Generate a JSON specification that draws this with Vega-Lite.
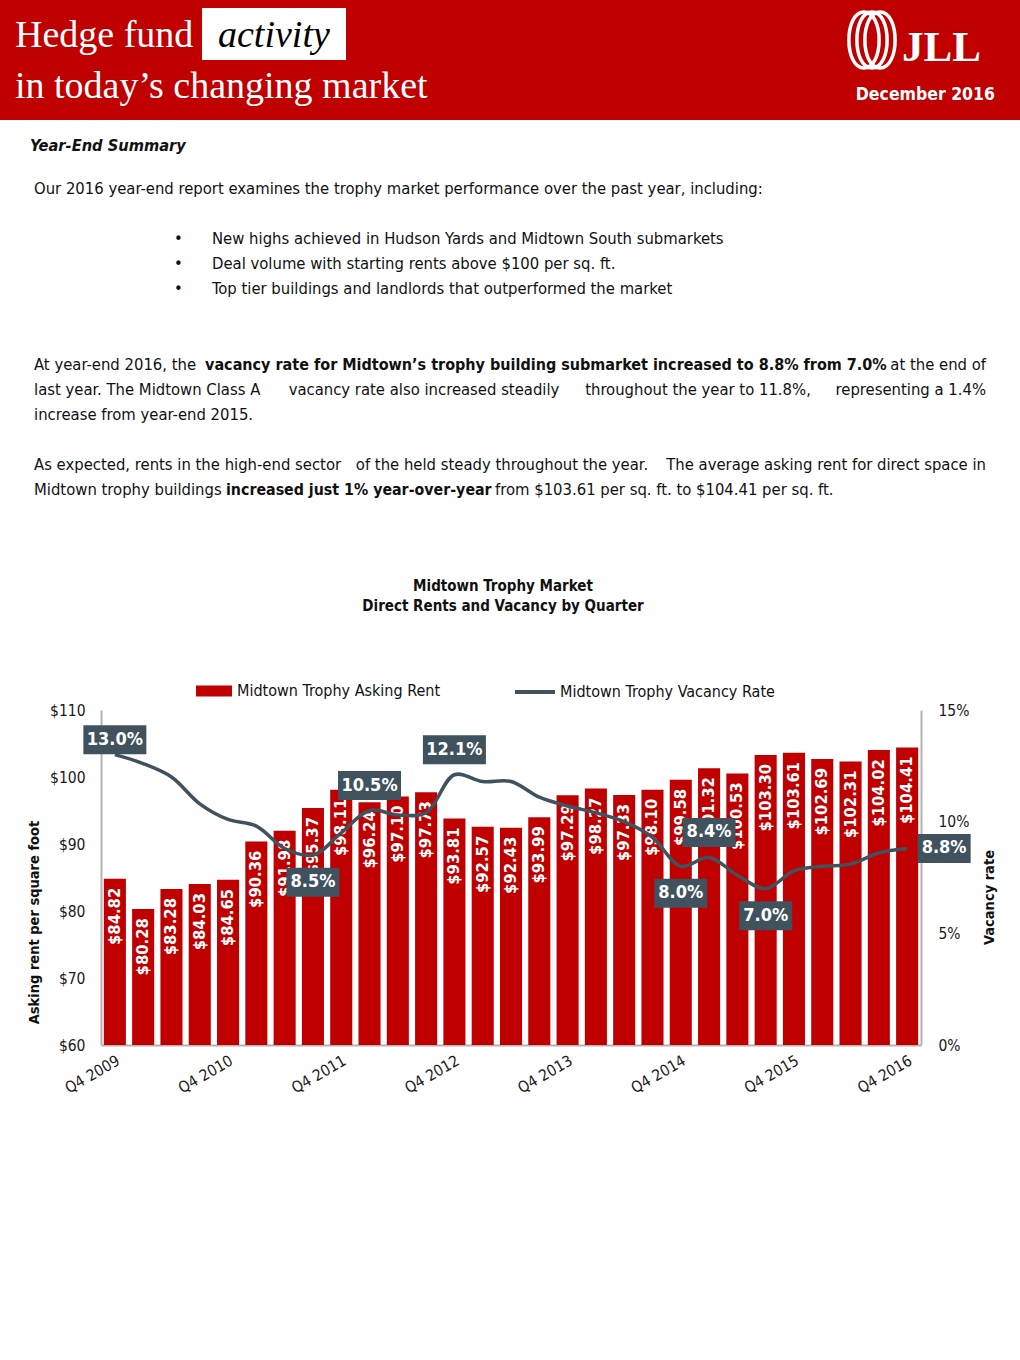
{
  "$schema": "https://vega.github.io/schema/vega-lite/v6.json",
  "width": 820,
  "height": 335,
  "autosize": {"type": "none"},
  "padding": {"left": 101, "top": 710, "right": 99, "bottom": 315},
  "background": "white",
  "data": {
    "values": [
      {"q": "Q4 2009", "rent": 84.82, "vac": 0.130},
      {"q": "Q1 2010", "rent": 80.28, "vac": 0.126},
      {"q": "Q2 2010", "rent": 83.28, "vac": 0.120},
      {"q": "Q3 2010", "rent": 84.03, "vac": 0.108},
      {"q": "Q4 2010", "rent": 84.65, "vac": 0.101},
      {"q": "Q1 2011", "rent": 90.36, "vac": 0.098},
      {"q": "Q2 2011", "rent": 91.98, "vac": 0.088},
      {"q": "Q3 2011", "rent": 95.37, "vac": 0.085},
      {"q": "Q4 2011", "rent": 98.11, "vac": 0.095},
      {"q": "Q1 2012", "rent": 96.24, "vac": 0.105},
      {"q": "Q2 2012", "rent": 97.10, "vac": 0.103},
      {"q": "Q3 2012", "rent": 97.73, "vac": 0.104},
      {"q": "Q4 2012", "rent": 93.81, "vac": 0.121},
      {"q": "Q1 2013", "rent": 92.57, "vac": 0.118},
      {"q": "Q2 2013", "rent": 92.43, "vac": 0.118},
      {"q": "Q3 2013", "rent": 93.99, "vac": 0.111},
      {"q": "Q4 2013", "rent": 97.29, "vac": 0.107},
      {"q": "Q1 2014", "rent": 98.27, "vac": 0.104},
      {"q": "Q2 2014", "rent": 97.33, "vac": 0.100},
      {"q": "Q3 2014", "rent": 98.10, "vac": 0.093},
      {"q": "Q4 2014", "rent": 99.58, "vac": 0.080},
      {"q": "Q1 2015", "rent": 101.32, "vac": 0.084},
      {"q": "Q2 2015", "rent": 100.53, "vac": 0.076},
      {"q": "Q3 2015", "rent": 103.30, "vac": 0.070},
      {"q": "Q4 2015", "rent": 103.61, "vac": 0.078},
      {"q": "Q1 2016", "rent": 102.69, "vac": 0.080},
      {"q": "Q2 2016", "rent": 102.31, "vac": 0.081},
      {"q": "Q3 2016", "rent": 104.02, "vac": 0.086},
      {"q": "Q4 2016", "rent": 104.41, "vac": 0.088}
    ]
  },
  "layer": [
    {"data": {"values": [{}]}, "mark": {"type": "rect", "x": -101, "x2": 919, "y": -710, "y2": -590, "fill": "#c00000"}, "encoding": {}},
    {"data": {"values": [{}]}, "mark": {"type": "rect", "x": 101, "x2": 245, "y": -702, "y2": -650, "fill": "#ffffff"}, "encoding": {}},
    {"data": {"values": [{}]}, "mark": {"type": "text", "text": "Hedge fund", "x": -86, "y": -663, "align": "left", "baseline": "alphabetic", "font": "Liberation Serif", "fontSize": 38, "fill": "#ffffff"}, "encoding": {}},
    {"data": {"values": [{}]}, "mark": {"type": "text", "text": "activity", "x": 117, "y": -663, "align": "left", "baseline": "alphabetic", "font": "Liberation Serif", "fontStyle": "italic", "fontSize": 38, "fill": "#000000"}, "encoding": {}},
    {"data": {"values": [{}]}, "mark": {"type": "text", "text": "in today’s changing market", "x": -86, "y": -612, "align": "left", "baseline": "alphabetic", "font": "Liberation Serif", "fontSize": 38, "fill": "#ffffff"}, "encoding": {}},
    {"data": {"values": [{}]}, "mark": {"type": "point", "shape": "M0,-1C0.72,-1,0.72,1,0,1C-0.72,1,-0.72,-1,0,-1Z", "size": 3136, "x": 763, "y": -670, "filled": false, "stroke": "#ffffff", "strokeWidth": 3.5, "opacity": 1}, "encoding": {}},
    {"data": {"values": [{}]}, "mark": {"type": "point", "shape": "M0,-1C0.72,-1,0.72,1,0,1C-0.72,1,-0.72,-1,0,-1Z", "size": 3136, "x": 771, "y": -670, "filled": false, "stroke": "#ffffff", "strokeWidth": 3.5, "opacity": 1}, "encoding": {}},
    {"data": {"values": [{}]}, "mark": {"type": "point", "shape": "M0,-1C0.72,-1,0.72,1,0,1C-0.72,1,-0.72,-1,0,-1Z", "size": 3136, "x": 779, "y": -670, "filled": false, "stroke": "#ffffff", "strokeWidth": 3.5, "opacity": 1}, "encoding": {}},
    {"data": {"values": [{}]}, "mark": {"type": "text", "text": "JLL", "x": 801, "y": -649, "align": "left", "baseline": "alphabetic", "font": "Liberation Serif", "fontWeight": "bold", "fontSize": 43, "fill": "#ffffff"}, "encoding": {}},
    {"data": {"values": [{}]}, "mark": {"type": "text", "text": "December 2016", "x": 894, "y": -610, "align": "right", "baseline": "alphabetic", "fontWeight": "bold", "fontSize": 17.5, "fill": "#ffffff"}, "encoding": {}},
    {"data": {"values": [{}]}, "mark": {"type": "text", "text": "Year-End Summary", "x": -71, "y": -559.5, "align": "left", "baseline": "alphabetic", "fontWeight": "bold", "fontStyle": "italic", "fontSize": 16.3, "fill": "#111111"}, "encoding": {}},
    {"data": {"values": [{}]}, "mark": {"type": "text", "text": "Our 2016 year-end report examines the trophy market performance over the past year, including:", "x": -67, "y": -516.5, "align": "left", "baseline": "alphabetic", "fontSize": 16.5, "fill": "#111111"}, "encoding": {}},
    {"data": {"values": [{}]}, "mark": {"type": "text", "text": ["•", "•", "•"], "lineHeight": 25, "x": 73, "y": -466.5, "align": "left", "baseline": "alphabetic", "fontSize": 16.5, "fill": "#111111"}, "encoding": {}},
    {"data": {"values": [{}]}, "mark": {"type": "text", "text": ["New highs achieved in Hudson Yards and Midtown South submarkets", "Deal volume with starting rents above $100 per sq. ft.", "Top tier buildings and landlords that outperformed the market"], "lineHeight": 25, "x": 111, "y": -466.5, "align": "left", "baseline": "alphabetic", "fontSize": 16.5, "fill": "#111111"}, "encoding": {}},
    {"data": {"values": [{}]}, "mark": {"type": "text", "text": "At year-end 2016, the", "x": -67, "y": -340.5, "align": "left", "baseline": "alphabetic", "fontSize": 16.5, "fill": "#111111"}, "encoding": {}},
    {"data": {"values": [{}]}, "mark": {"type": "text", "text": "vacancy rate for Midtown’s trophy building submarket increased to 8.8% from 7.0%", "x": 104, "y": -340.5, "align": "left", "baseline": "alphabetic", "fontWeight": "bold", "fontSize": 16, "fill": "#111111"}, "encoding": {}},
    {"data": {"values": [{}]}, "mark": {"type": "text", "text": "at the end of", "x": 885, "y": -340.5, "align": "right", "baseline": "alphabetic", "fontSize": 16.5, "fill": "#111111"}, "encoding": {}},
    {"data": {"values": [{}]}, "mark": {"type": "text", "text": "last year. The Midtown Class A", "x": -67, "y": -315.5, "align": "left", "baseline": "alphabetic", "fontSize": 16.5, "fill": "#111111"}, "encoding": {}},
    {"data": {"values": [{}]}, "mark": {"type": "text", "text": "vacancy rate also increased steadily", "x": 323, "y": -315.5, "align": "center", "baseline": "alphabetic", "fontSize": 16.5, "fill": "#111111"}, "encoding": {}},
    {"data": {"values": [{}]}, "mark": {"type": "text", "text": "throughout the year to 11.8%,", "x": 597, "y": -315.5, "align": "center", "baseline": "alphabetic", "fontSize": 16.5, "fill": "#111111"}, "encoding": {}},
    {"data": {"values": [{}]}, "mark": {"type": "text", "text": "representing a 1.4%", "x": 885, "y": -315.5, "align": "right", "baseline": "alphabetic", "fontSize": 16.5, "fill": "#111111"}, "encoding": {}},
    {"data": {"values": [{}]}, "mark": {"type": "text", "text": "increase from year-end 2015.", "x": -67, "y": -290.5, "align": "left", "baseline": "alphabetic", "fontSize": 16.5, "fill": "#111111"}, "encoding": {}},
    {"data": {"values": [{}]}, "mark": {"type": "text", "text": "As expected, rents in the high-end sector", "x": -67, "y": -240.5, "align": "left", "baseline": "alphabetic", "fontSize": 16.5, "fill": "#111111"}, "encoding": {}},
    {"data": {"values": [{}]}, "mark": {"type": "text", "text": "of the held steady throughout the year.", "x": 401, "y": -240.5, "align": "center", "baseline": "alphabetic", "fontSize": 16.5, "fill": "#111111"}, "encoding": {}},
    {"data": {"values": [{}]}, "mark": {"type": "text", "text": "The average asking rent for direct space in", "x": 885, "y": -240.5, "align": "right", "baseline": "alphabetic", "fontSize": 16.5, "fill": "#111111"}, "encoding": {}},
    {"data": {"values": [{}]}, "mark": {"type": "text", "text": "Midtown trophy buildings", "x": -67, "y": -215.5, "align": "left", "baseline": "alphabetic", "fontSize": 16.5, "fill": "#111111"}, "encoding": {}},
    {"data": {"values": [{}]}, "mark": {"type": "text", "text": "increased just 1% year-over-year", "x": 125, "y": -215.5, "align": "left", "baseline": "alphabetic", "fontWeight": "bold", "fontSize": 15.8, "fill": "#111111"}, "encoding": {}},
    {"data": {"values": [{}]}, "mark": {"type": "text", "text": "from $103.61 per sq. ft. to $104.41 per sq. ft.", "x": 394, "y": -215.5, "align": "left", "baseline": "alphabetic", "fontSize": 16.5, "fill": "#111111"}, "encoding": {}},
    {"data": {"values": [{}]}, "mark": {"type": "text", "text": ["Midtown Trophy Market", "Direct Rents and Vacancy by Quarter"], "lineHeight": 20, "x": 402, "y": -119.5, "align": "center", "baseline": "alphabetic", "fontWeight": "bold", "fontSize": 15, "fill": "#111111"}, "encoding": {}},
    {
      "encoding": {
        "x": {"field": "q", "type": "ordinal", "sort": null, "title": null, "scale": {"paddingInner": 0.22, "paddingOuter": 0.1}, "axis": {"values": ["Q4 2009", "Q4 2010", "Q4 2011", "Q4 2012", "Q4 2013", "Q4 2014", "Q4 2015", "Q4 2016"], "labelAngle": -30, "labelPadding": 8}},
        "y": {"field": "rent", "type": "quantitative", "scale": {"domain": [60, 110], "zero": false, "nice": false}, "axis": {"orient": "left", "values": [60, 70, 80, 90, 100, 110], "format": "$d", "title": "Asking rent per square foot", "labelPadding": 16, "titlePadding": 8, "titleY": 212}}
      },
      "layer": [
        {"mark": {"type": "bar"}, "encoding": {"y2": {"datum": 60}, "fill": {"datum": "Midtown Trophy Asking Rent", "type": "nominal", "scale": {"range": ["#c00000"]}, "legend": {"orient": "none", "legendX": 94, "legendY": -38, "title": null, "symbolType": "M-1,-0.3H1V0.3H-1Z", "symbolSize": 1296, "labelFontSize": 16, "labelColor": "#111111", "labelOffset": 4, "labelLimit": 400, "padding": 0}}}},
        {"mark": {"type": "text", "angle": 270, "align": "right", "baseline": "middle", "dx": -9, "fill": "#ffffff", "fontWeight": "bold", "fontSize": 16.5}, "encoding": {"text": {"field": "rent", "type": "quantitative", "format": "$.2f"}}}
      ]
    },
    {
      "encoding": {
        "x": {"field": "q", "type": "ordinal", "sort": null, "title": null, "scale": {"paddingInner": 0.22, "paddingOuter": 0.1}, "axis": {"values": ["Q4 2009", "Q4 2010", "Q4 2011", "Q4 2012", "Q4 2013", "Q4 2014", "Q4 2015", "Q4 2016"], "labelAngle": -30, "labelPadding": 8}},
        "y": {"field": "vac", "type": "quantitative", "scale": {"domain": [0, 0.15], "nice": false}, "axis": {"orient": "right", "values": [0, 0.05, 0.1, 0.15], "format": ".0%", "title": "Vacancy rate", "titleAngle": 270, "labelPadding": 17, "titlePadding": 28, "titleY": 187}}
      },
      "layer": [
        {"mark": {"type": "line", "interpolate": "catmull-rom", "strokeWidth": 3.5}, "encoding": {"stroke": {"datum": "Midtown Trophy Vacancy Rate", "type": "nominal", "scale": {"range": ["#3f525e"]}, "legend": {"orient": "none", "legendX": 412, "legendY": -40, "title": null, "symbolType": "stroke", "symbolSize": 1600, "symbolStrokeWidth": 4, "labelFontSize": 16, "labelColor": "#111111", "labelOffset": 3, "labelLimit": 400, "padding": 0}}}},
        {"transform": [{"filter": {"field": "q", "oneOf": ["Q4 2009"]}}], "mark": {"type": "point", "shape": "M-1,-0.46H1V0.46H-1Z", "size": 3969, "filled": true, "fill": "#3f525e", "strokeWidth": 0, "opacity": 1, "yOffset": -15}},
        {"transform": [{"filter": {"field": "q", "oneOf": ["Q4 2009"]}}], "mark": {"type": "text", "dy": -15, "baseline": "middle", "align": "center", "fill": "#ffffff", "fontWeight": "bold", "fontSize": 18}, "encoding": {"text": {"field": "vac", "type": "quantitative", "format": ".1%"}}},
        {"transform": [{"filter": {"field": "q", "oneOf": ["Q1 2012", "Q4 2012"]}}], "mark": {"type": "point", "shape": "M-1,-0.46H1V0.46H-1Z", "size": 3969, "filled": true, "fill": "#3f525e", "strokeWidth": 0, "opacity": 1, "yOffset": -25}},
        {"transform": [{"filter": {"field": "q", "oneOf": ["Q1 2012", "Q4 2012"]}}], "mark": {"type": "text", "dy": -25, "baseline": "middle", "align": "center", "fill": "#ffffff", "fontWeight": "bold", "fontSize": 18}, "encoding": {"text": {"field": "vac", "type": "quantitative", "format": ".1%"}}},
        {"transform": [{"filter": {"field": "q", "oneOf": ["Q1 2015"]}}], "mark": {"type": "point", "shape": "M-1,-0.547H1V0.547H-1Z", "size": 2809, "filled": true, "fill": "#3f525e", "strokeWidth": 0, "opacity": 1, "yOffset": -25}},
        {"transform": [{"filter": {"field": "q", "oneOf": ["Q1 2015"]}}], "mark": {"type": "text", "dy": -25, "baseline": "middle", "align": "center", "fill": "#ffffff", "fontWeight": "bold", "fontSize": 18}, "encoding": {"text": {"field": "vac", "type": "quantitative", "format": ".1%"}}},
        {"transform": [{"filter": {"field": "q", "oneOf": ["Q3 2011", "Q4 2014", "Q3 2015"]}}], "mark": {"type": "point", "shape": "M-1,-0.547H1V0.547H-1Z", "size": 2809, "filled": true, "fill": "#3f525e", "strokeWidth": 0, "opacity": 1, "yOffset": 27}},
        {"transform": [{"filter": {"field": "q", "oneOf": ["Q3 2011", "Q4 2014", "Q3 2015"]}}], "mark": {"type": "text", "dy": 27, "baseline": "middle", "align": "center", "fill": "#ffffff", "fontWeight": "bold", "fontSize": 18}, "encoding": {"text": {"field": "vac", "type": "quantitative", "format": ".1%"}}},
        {"transform": [{"filter": {"field": "q", "oneOf": ["Q4 2016"]}}], "mark": {"type": "point", "shape": "M-1,-0.547H1V0.547H-1Z", "size": 2809, "filled": true, "fill": "#3f525e", "strokeWidth": 0, "opacity": 1, "xOffset": 37}},
        {"transform": [{"filter": {"field": "q", "oneOf": ["Q4 2016"]}}], "mark": {"type": "text", "dx": 37, "baseline": "middle", "align": "center", "fill": "#ffffff", "fontWeight": "bold", "fontSize": 18}, "encoding": {"text": {"field": "vac", "type": "quantitative", "format": ".1%"}}}
      ]
    }
  ],
  "resolve": {"scale": {"y": "independent"}},
  "config": {
    "font": "DejaVu Sans Condensed, DejaVu Sans, sans-serif",
    "view": {"stroke": null},
    "axis": {"labelFontSize": 15.5, "labelColor": "#1a1a1a", "titleFontSize": 14.5, "titleFontWeight": "bold", "titleColor": "#111111", "grid": false, "ticks": false, "domainColor": "#b3b3b3", "domainWidth": 2}
  }
}
